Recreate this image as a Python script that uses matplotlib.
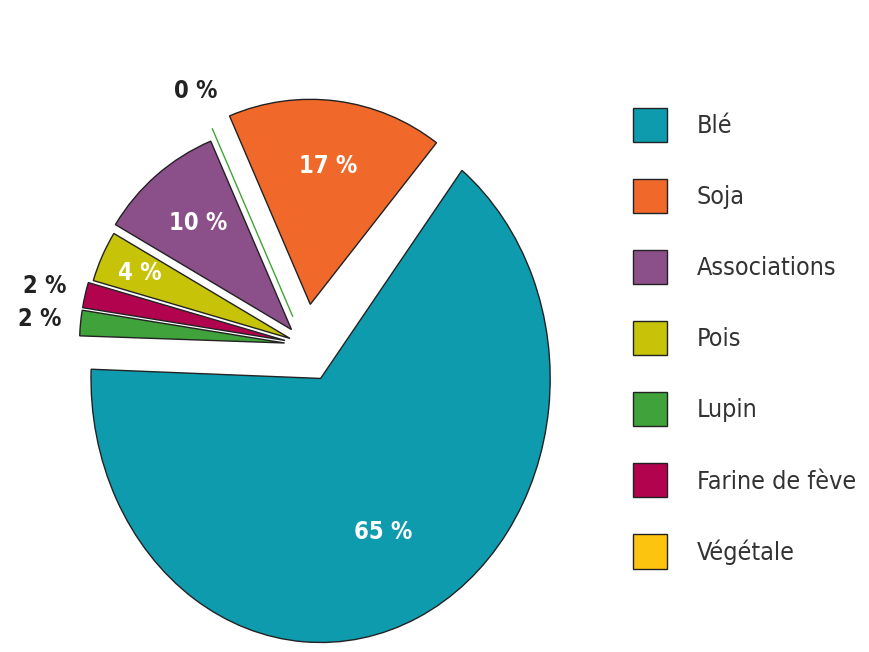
import numpy as np
import matplotlib.pyplot as plt
from matplotlib.patches import Patch
from matplotlib.transforms import Affine2D

plt.rcParams['font.family'] = ['DejaVu Sans']
plt.rcParams['font.stretch'] = 'condensed'

# données (ordre de la légende)
categories = ['Blé', 'Soja', 'Associations', 'Pois', 'Lupin', 'Farine de fève', 'Végétale']
values = [65, 17, 10, 4, 2, 2, 0]
colors = ['#0E9BAE', '#F0692B', '#8B4F8A', '#C6C308', '#40A23A', '#B2044E', '#FDC40F']

# ordre de dessin (sens antihoraire)
draw_order = ['Soja', 'Végétale', 'Associations', 'Pois', 'Farine de fève', 'Lupin', 'Blé']
explode = {'Soja': 0.2, 'Végétale': 0.15, 'Associations': 0.1, 'Pois': 0.08,
           'Farine de fève': 0.1, 'Lupin': 0.1, 'Blé': 0.18}
label_r = {'Soja': 0.68, 'Végétale': 1.2, 'Associations': 0.69, 'Pois': 0.8,
           'Farine de fève': 1.2, 'Lupin': 1.2, 'Blé': 0.72}

fig = plt.figure(figsize=(8.69, 6.52), dpi=100)
ax = fig.add_axes([0, 0, 600 / 869, 1])

idx = [categories.index(c) for c in draw_order]
wedges, _ = ax.pie([values[i] for i in idx],
                   colors=[colors[i] for i in idx],
                   explode=[explode[c] for c in draw_order],
                   startangle=52, counterclock=True,
                   wedgeprops=dict(edgecolor='#222222', linewidth=1))

for c, w in zip(draw_order, wedges):
    v = values[categories.index(c)]
    th = np.deg2rad((w.theta1 + w.theta2) / 2)
    cx, cy = w.center
    r = label_r[c]
    sy = 1.0
    if c == 'Blé':
        # le blé est dessiné un peu plus grand et étiré vers le bas
        sy = 1.15
        w.set_radius(1.12)
        w.set_transform(Affine2D().translate(-cx, -cy).scale(1, sy).translate(cx, cy) + ax.transData)
    if c == 'Végétale':
        w.set_edgecolor('#3FA535')
    inside = v >= 4
    ax.text(cx + r * np.cos(th), cy + sy * r * np.sin(th), f'{v} %',
            ha='center', va='center', fontsize=17, fontweight='bold',
            color='white' if inside else '#222222')

# échelle : 205 px par unité, centre vers (305, 345) px
ppu = 205
ax.set_xlim(-305 / ppu, (600 - 305) / ppu)
ax.set_ylim(-(652 - 345) / ppu, 345 / ppu)
ax.set_aspect('auto')
ax.axis('off')

handles = [Patch(facecolor=colors[i], edgecolor='#222222', linewidth=1) for i in range(len(categories))]
fig.legend(handles, categories, loc='upper left', bbox_to_anchor=(633 / 869, 1 - 108 / 652),
           frameon=False, fontsize=18, handlelength=1.36, handleheight=1.72,
           labelspacing=1.48, handletextpad=1.2, borderpad=0, borderaxespad=0,
           labelcolor='#333333')

plt.savefig('out.png', dpi=100)
